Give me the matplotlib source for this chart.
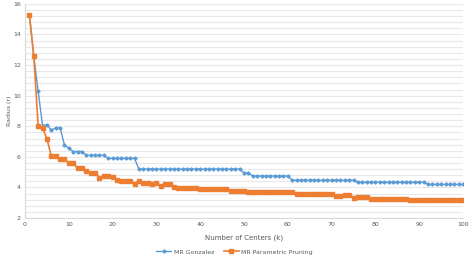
import numpy as np
import matplotlib
matplotlib.use("Agg")
import matplotlib.pyplot as plt

# Datos ---------------------------------------------------------------------------------------------------
k = list(range(1, 101))

gonzalez = ([15.3, 12.6, 10.3, 8.05, 8.1, 7.75, 7.9, 7.9, 6.8, 6.55,
             6.35, 6.35, 6.35, 6.1, 6.1, 6.1, 6.1, 6.1]
            + [5.9] * 7          # 19-25
            + [5.2] * 24         # 26-49
            + [4.95] * 2         # 50-51
            + [4.75] * 9         # 52-60
            + [4.47] * 15        # 61-75
            + [4.34] * 16        # 76-91
            + [4.2] * 9)         # 92-100

pruning = ([15.3, 12.6, 8.05, 7.88, 7.2, 6.05, 6.05, 5.85, 5.85, 5.6,
            5.6, 5.25, 5.3, 5.06, 4.96, 4.96, 4.64, 4.75, 4.75, 4.68,
            4.5, 4.45, 4.45, 4.45, 4.25, 4.42, 4.3, 4.3, 4.22, 4.32,
            4.12, 4.23, 4.23, 4.05]
           + [3.98] * 5          # 35-39
           + [3.93] * 3          # 40-42
           + [3.87] * 4          # 43-46
           + [3.78] * 4          # 47-50
           + [3.7] * 11          # 51-61
           + [3.6] * 9           # 62-70
           + [3.43, 3.43, 3.53, 3.53, 3.32, 3.41, 3.41, 3.41]  # 71-78
           + [3.27] * 9          # 79-87
           + [3.2] * 13)         # 88-100

# Figura --------------------------------------------------------------------------------------------------
fig = plt.figure(figsize=(4.69, 2.59), dpi=100)
ax = fig.add_axes([0.0533, 0.158, 0.934, 0.827])

azul = "#5B9BD5"
naranja = "#ED7D31"
gris = "#595959"

ax.plot(k, gonzalez, color=azul, lw=1.0, marker="D", ms=1.6, label="MR Gonzalez", zorder=3)
ax.plot(k, pruning, color=naranja, lw=1.2, marker="s", ms=2.3, label="MR Parametric Pruning", zorder=4)

ax.set_xlim(0, 100)
ax.set_ylim(2, 16)
ax.set_xticks(np.arange(0, 101, 10))
ax.set_yticks(np.arange(2, 17, 2))
ax.set_yticks(np.arange(2, 16.01, 0.4), minor=True)
ax.grid(True, which="both", axis="y", color="#e8e8e8", lw=0.8, zorder=0)
ax.set_axisbelow(True)

for lado in ["top", "right"]:
    ax.spines[lado].set_visible(False)
for lado in ["left", "bottom"]:
    ax.spines[lado].set_color("#d9d9d9")
    ax.spines[lado].set_linewidth(0.8)

ax.tick_params(which="both", length=0, labelsize=4.5, colors=gris, pad=3)
ax.set_xlabel("Number of Centers (k)", fontsize=5, color=gris, labelpad=5)
ax.set_ylabel("Radius (r)", fontsize=4.5, color=gris, labelpad=1)

fig.legend(loc="lower center", bbox_to_anchor=(0.5, -0.005), ncol=2, frameon=False,
           fontsize=4.5, labelcolor=gris, handlelength=2.4, handletextpad=0.4,
           columnspacing=1.6)

fig.savefig("out.png", dpi=100)
